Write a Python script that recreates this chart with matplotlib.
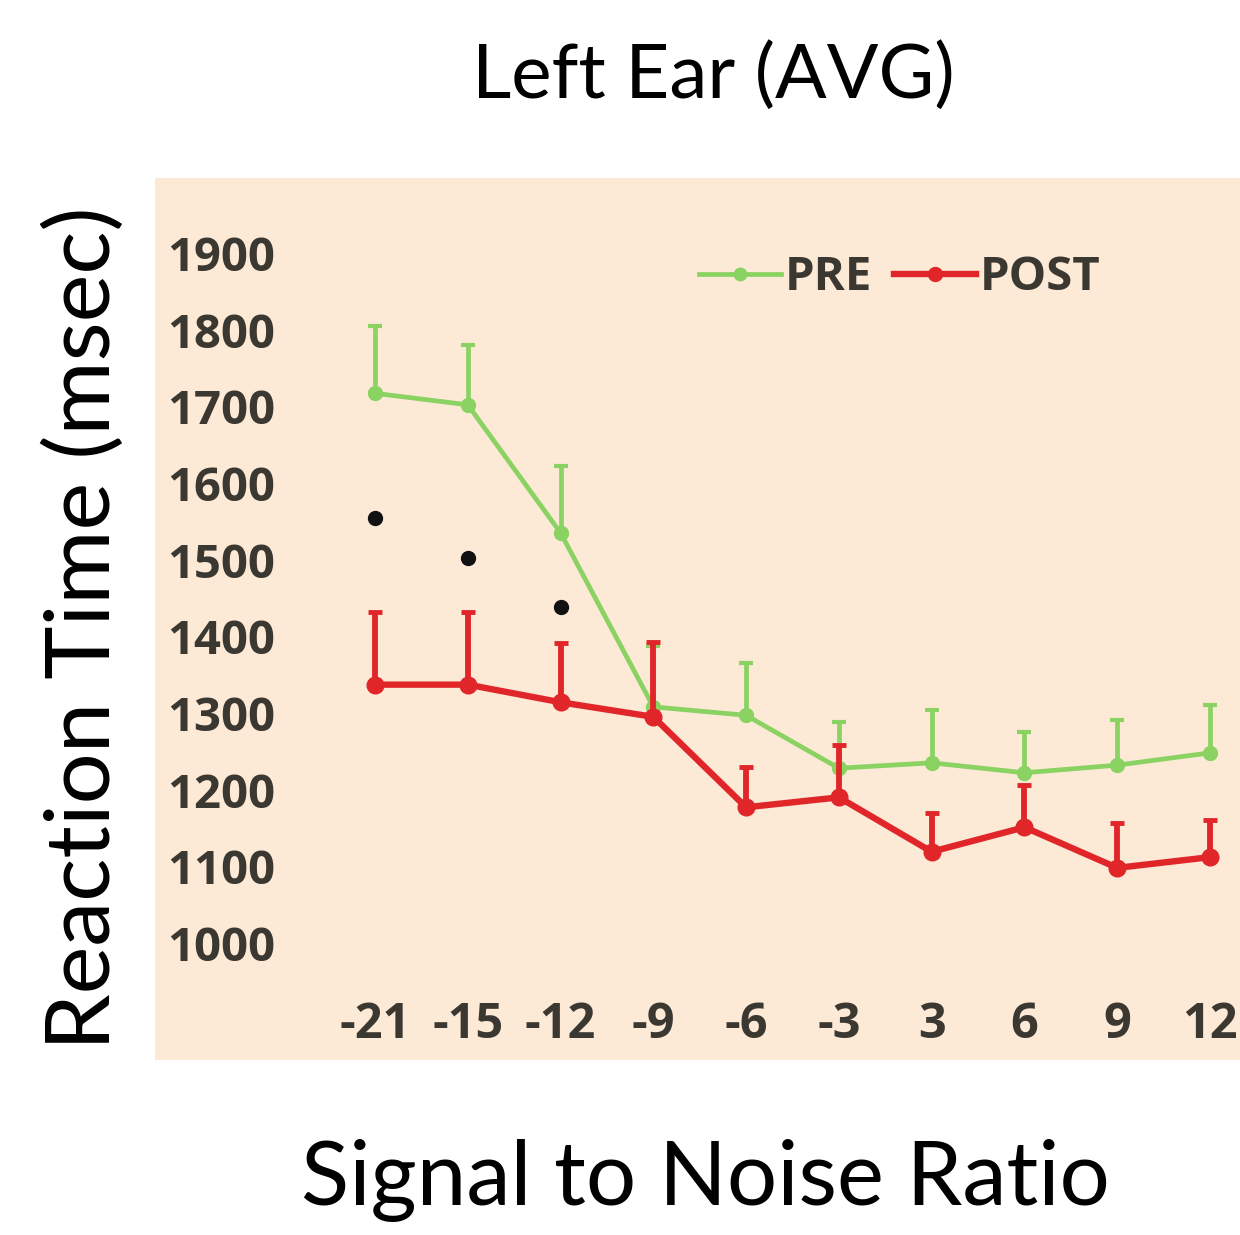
import matplotlib
matplotlib.use("Agg")
import matplotlib.pyplot as plt
from matplotlib.patches import Rectangle
from matplotlib.lines import Line2D
import numpy as np

# ---- data ----
snr_labels = ["-21", "-15", "-12", "-9", "-6", "-3", "3", "6", "9", "12"]
pre_mean = [1717, 1702, 1535, 1308, 1297, 1228, 1235, 1222, 1232, 1248]
pre_err = [88, 78, 87, 80, 68, 60, 69, 53, 59, 62]
post_mean = [1337, 1337, 1314, 1295, 1177, 1190, 1119, 1151, 1098, 1112]
post_err = [95, 95, 77, 98, 53, 68, 51, 55, 59, 48]
sig_idx = [0, 1, 2]
sig_y = [1554, 1502, 1438]
y_ticks = [1000, 1100, 1200, 1300, 1400, 1500, 1600, 1700, 1800, 1900]

W, H = 1240, 1235
fig = plt.figure(figsize=(W / 100, H / 100), dpi=100)
fig.patch.set_facecolor("white")

# peach panel
fig.patches.append(Rectangle((155 / W, 1 - 1060 / H), (1240 - 155) / W, (1060 - 178) / H,
                             transform=fig.transFigure, facecolor="#fce9d6",
                             edgecolor="none", zorder=-5))

# axes placement (pixels)
ax_l, ax_r, ax_t, ax_b = 320, 1240, 200, 990
ax = fig.add_axes([ax_l / W, 1 - ax_b / H, (ax_r - ax_l) / W, (ax_b - ax_t) / H])
ax.set_facecolor("none")
ax.set_zorder(2)

x = np.arange(len(snr_labels))
green = "#8ad262"
red = "#e1262a"
txt = "#3b3731"

ax.errorbar(x, pre_mean, yerr=[np.zeros(len(pre_err)), pre_err], color=green, lw=3.4,
            marker="o", ms=10, elinewidth=3.4, capsize=5, capthick=3, zorder=3)
ax.errorbar(x, post_mean, yerr=[np.zeros(len(post_err)), post_err], color=red, lw=4.6,
            marker="o", ms=12, elinewidth=4.2, capsize=5, capthick=3.5, zorder=4)
ax.plot(sig_idx, sig_y, "o", color="#111111", ms=10, zorder=5)

# x range: index 0 -> px 375, spacing ~92.8
sp = 92.8
ax.set_xlim((ax_l - 375) / sp, 9 + (ax_r - 1210) / sp)
ppu = (943 - 253) / 900.0
ax.set_ylim(1000 - (ax_b - 943) / ppu, 1900 + (253 - ax_t) / ppu)

for s in ax.spines.values():
    s.set_visible(False)
ax.set_xticks(x)
ax.set_xticklabels(snr_labels)
ax.set_yticks(y_ticks)
ax.tick_params(length=0)
for lab in ax.get_yticklabels():
    lab.set_fontfamily("Open Sans")
    lab.set_fontweight("bold")
    lab.set_fontsize(34)
    lab.set_color(txt)
for lab in ax.get_xticklabels():
    lab.set_fontfamily("Open Sans")
    lab.set_fontweight("bold")
    lab.set_fontsize(35)
    lab.set_color(txt)
ax.tick_params(axis="y", pad=32)
ax.tick_params(axis="x", pad=8)

# legend
handles = [Line2D([], [], color=green, lw=3.4, marker="o", ms=9),
           Line2D([], [], color=red, lw=4.6, marker="o", ms=10)]
leg = ax.legend(handles, ["PRE", "POST"], loc="center left",
                bbox_to_anchor=(675 / W, 1 - 278 / H), bbox_transform=fig.transFigure,
                ncol=2, frameon=False, handlelength=1.75, handletextpad=0.08,
                columnspacing=0.45, borderpad=0,
                prop={"family": "Open Sans", "weight": "bold", "size": 34})
for t in leg.get_texts():
    t.set_color(txt)

# outer labels
fig.text(713 / W, 1 - 76 / H, "Left Ear (AVG)", ha="center", va="center",
         fontsize=55, family="Lato", color="black")
fig.text(705 / W, 1 - 1180 / H, "Signal to Noise Ratio", ha="center", va="center",
         fontsize=64, family="Lato", color="black")
fig.text(85 / W, 1 - 628 / H, "Reaction Time (msec)", ha="center", va="center",
         rotation=90, fontsize=65, family="Lato", color="black")

fig.savefig("out.png", dpi=100, facecolor="white")
